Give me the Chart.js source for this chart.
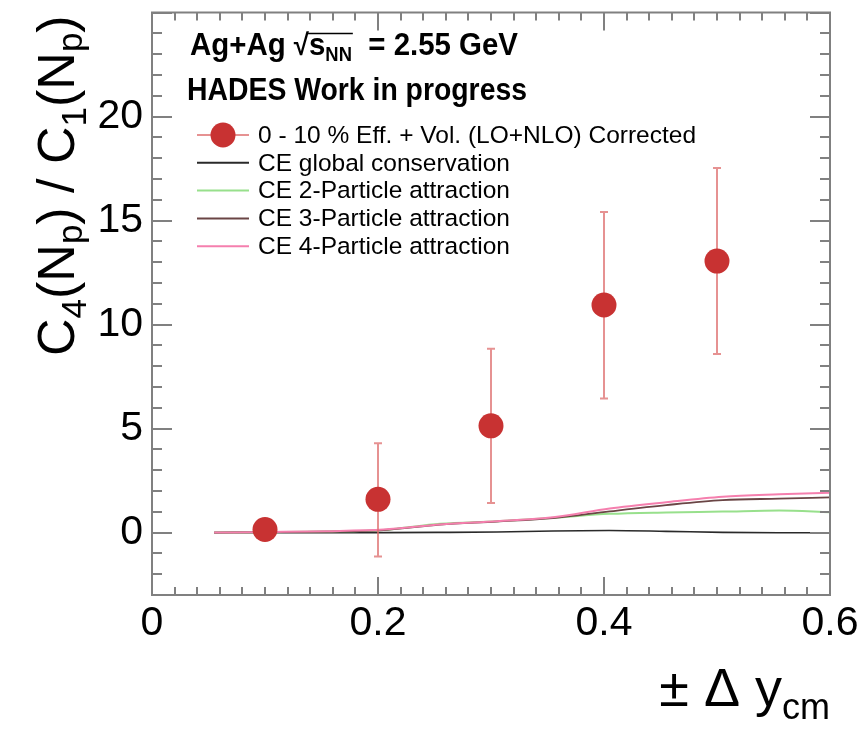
<!DOCTYPE html>
<html><head><meta charset="utf-8">
<script src="https://cdn.jsdelivr.net/npm/chart.js@4.4.1/dist/chart.umd.min.js"></script>
<style>html,body{margin:0;padding:0;background:#fff;}#wrap{width:866px;height:733px;}</style>
</head><body><div id="wrap"><canvas id="c" width="866" height="733"></canvas></div>
<script>
// ---- data ----
const xTicks = [0, 0.2, 0.4, 0.6];
const xTickLabels = ['0', '0.2', '0.4', '0.6'];
const yTicks = [0, 5, 10, 15, 20];
const yTickLabels = ['0', '5', '10', '15', '20'];

const dataX = [0.1, 0.2, 0.3, 0.4, 0.5];
const dataY = [0.15, 1.6, 5.13, 10.94, 13.05];
const dataYLow = [-0.15, -1.15, 1.42, 6.44, 8.58];
const dataYHigh = [0.45, 4.3, 8.84, 15.41, 17.53];

const ceX = [0.055, 0.105, 0.155, 0.205, 0.255, 0.305, 0.355, 0.405, 0.455, 0.505, 0.555, 0.6];
const ceGlobal = [0, 0, 0, 0, 0.01, 0.03, 0.08, 0.1, 0.06, 0.01, -0.01, -0.01];
const ce2 = [0, 0.02, 0.05, 0.13, 0.42, 0.54, 0.71, 0.9, 0.97, 1.01, 1.06, 0.98];
const ce3 = [0, 0.02, 0.05, 0.12, 0.38, 0.53, 0.70, 1.02, 1.32, 1.56, 1.63, 1.69];
const ce4 = [0, 0.03, 0.07, 0.15, 0.39, 0.55, 0.74, 1.16, 1.46, 1.72, 1.84, 1.92];

const labels = [
  '0 - 10 % Eff. + Vol. (LO+NLO) Corrected',
  'CE global conservation',
  'CE 2-Particle attraction',
  'CE 3-Particle attraction',
  'CE 4-Particle attraction'
];

const pts = (xs, ys) => xs.map((x, i) => ({x: x, y: ys[i]}));

const FONT = '"Liberation Sans", Arial, sans-serif';
const NARROW = '"Liberation Sans Narrow", "Liberation Sans", Arial, sans-serif';
const AXIS_COL = '#808080';
const ERR_COL = 'rgba(222,110,110,0.75)';

function drawRich(ctx, parts, x, y) {
  let cx = x;
  const spans = [];
  for (const p of parts) {
    ctx.font = p.f;
    ctx.fillText(p.t, cx, y + (p.dy || 0));
    const w = ctx.measureText(p.t).width;
    spans.push([cx, cx + w]);
    cx += w + (p.gap || 0);
  }
  return spans;
}
function richWidth(ctx, parts) {
  let w = 0;
  for (const p of parts) { ctx.font = p.f; w += ctx.measureText(p.t).width + (p.gap || 0); }
  return w;
}

const errorBars = {
  id: 'errorBars',
  beforeDatasetDraw(chart, args) {
    if (args.index !== 0) return;
    const {ctx, scales: {x, y}} = chart;
    ctx.save();
    ctx.strokeStyle = ERR_COL;
    ctx.lineWidth = 2;
    dataX.forEach((xv, i) => {
      const px = x.getPixelForValue(xv);
      const lo = y.getPixelForValue(dataYLow[i]);
      const hi = y.getPixelForValue(dataYHigh[i]);
      ctx.beginPath();
      ctx.moveTo(px, lo); ctx.lineTo(px, hi);
      ctx.moveTo(px - 4, lo); ctx.lineTo(px + 4, lo);
      ctx.moveTo(px - 4, hi); ctx.lineTo(px + 4, hi);
      ctx.stroke();
    });
    ctx.restore();
  }
};

const decor = {
  id: 'decor',
  beforeDraw(chart) {
    const ctx = chart.ctx;
    ctx.save();
    ctx.fillStyle = '#fff';
    ctx.fillRect(0, 0, chart.width, chart.height);
    ctx.restore();
  },
  afterDraw(chart) {
    const {ctx, chartArea: a, scales: {x, y}} = chart;
    ctx.save();
    // frame
    ctx.strokeStyle = AXIS_COL;
    ctx.lineWidth = 2;
    ctx.strokeRect(a.left, a.top, a.right - a.left, a.bottom - a.top);
    // ticks (inward)
    ctx.beginPath();
    for (let k = 0; k <= 30; k++) {
      const v = k * 0.02;
      const px = Math.round(x.getPixelForValue(v));
      const len = (k % 10 === 0) ? 18 : 8;
      ctx.moveTo(px, a.bottom); ctx.lineTo(px, a.bottom - len);
      ctx.moveTo(px, a.top); ctx.lineTo(px, a.top + len);
    }
    for (let v = -3; v <= 25; v++) {
      const py = Math.round(y.getPixelForValue(v));
      const len = (v % 5 === 0) ? 20 : 10;
      ctx.moveTo(a.left, py); ctx.lineTo(a.left + len, py);
      ctx.moveTo(a.right, py); ctx.lineTo(a.right - len, py);
    }
    ctx.stroke();

    ctx.fillStyle = '#000';
    ctx.textBaseline = 'alphabetic';
    ctx.textAlign = 'left';

    // headers (condensed bold)
    const hb = 'bold 32px ' + NARROW;
    const hs = 'bold 20px ' + NARROW;
    const line1 = [
      {t: 'Ag+Ag ', f: hb},
      {t: '\u221A', f: 'bold 30px ' + FONT},
      {t: 's', f: hb},
      {t: 'NN', f: hs, dy: 6},
      {t: '  = 2.55 GeV', f: hb}
    ];
    const sx1 = 328 / richWidth(ctx, line1);
    ctx.save();
    ctx.translate(190, 55);
    ctx.scale(sx1, 1);
    const sp = drawRich(ctx, line1, 0, 0);
    ctx.lineWidth = 1.5;
    ctx.strokeStyle = '#000';
    ctx.beginPath();
    ctx.moveTo(sp[1][1] - 1, -21.5); ctx.lineTo(sp[3][1] + 1, -21.5);
    ctx.stroke();
    ctx.restore();
    ctx.font = hb;
    const sx2 = 340 / ctx.measureText('HADES Work in progress').width;
    ctx.save();
    ctx.translate(187, 100);
    ctx.scale(sx2, 1);
    ctx.font = hb;
    ctx.fillText('HADES Work in progress', 0, 0);
    ctx.restore();

    // legend
    const ds = chart.data.datasets;
    const lx0 = 197, lx1 = 249, ltx = 258, ly0 = 135, ldy = 27.8;
    ctx.font = '24.5px ' + FONT;
    ctx.textBaseline = 'middle';
    ds.forEach((d, i) => {
      const yy = ly0 + i * ldy;
      ctx.strokeStyle = i === 0 ? ERR_COL : d.borderColor;
      ctx.lineWidth = 2;
      ctx.beginPath(); ctx.moveTo(lx0, yy); ctx.lineTo(lx1, yy); ctx.stroke();
      if (i === 0) {
        ctx.fillStyle = d.backgroundColor;
        ctx.beginPath(); ctx.arc((lx0 + lx1) / 2, yy, 12.5, 0, Math.PI * 2); ctx.fill();
      }
      ctx.fillStyle = '#000';
      ctx.fillText(d.label, ltx, yy + 1);
    });

    // y title (rotated)
    ctx.save();
    ctx.translate(74, 356);
    ctx.rotate(-Math.PI / 2);
    ctx.textBaseline = 'alphabetic';
    const big = '52px ' + FONT, sm = '35px ' + FONT;
    drawRich(ctx, [
      {t: 'C', f: big}, {t: '4', f: sm, dy: 12},
      {t: '(N', f: big}, {t: 'p', f: sm, dy: 8},
      {t: ') / C', f: big}, {t: '1', f: sm, dy: 12},
      {t: '(N', f: big}, {t: 'p', f: sm, dy: 8},
      {t: ')', f: big}
    ], 0, 0);
    ctx.restore();

    // x title
    ctx.textBaseline = 'alphabetic';
    const xparts = [
      {t: '\u00B1 \u0394 y', f: '54px ' + FONT},
      {t: 'cm', f: '36px ' + FONT, dy: 13}
    ];
    const w = richWidth(ctx, xparts);
    drawRich(ctx, xparts, a.right - w, 706);
    ctx.restore();
  }
};

new Chart(document.getElementById('c'), {
  type: 'line',
  data: {
    datasets: [
      {label: labels[0], type: 'scatter', data: pts(dataX, dataY), backgroundColor: '#c83232',
       borderWidth: 0, pointRadius: 12.5, pointHoverRadius: 12.5, showLine: false, order: 0},
      {label: labels[1], data: pts(ceX, ceGlobal), borderColor: '#2a2a2a', borderWidth: 1.6,
       pointRadius: 0, cubicInterpolationMode: 'monotone', order: 4},
      {label: labels[2], data: pts(ceX, ce2), borderColor: '#98e08c', borderWidth: 2,
       pointRadius: 0, cubicInterpolationMode: 'monotone', order: 3},
      {label: labels[3], data: pts(ceX, ce3), borderColor: '#6a4545', borderWidth: 1.8,
       pointRadius: 0, cubicInterpolationMode: 'monotone', order: 2},
      {label: labels[4], data: pts(ceX, ce4), borderColor: '#f57fae', borderWidth: 2,
       pointRadius: 0, cubicInterpolationMode: 'monotone', order: 1}
    ]
  },
  options: {
    responsive: false,
    animation: false,
    layout: {padding: {left: 0, right: 36, top: 9, bottom: 0}},
    plugins: {legend: {display: false}, tooltip: {enabled: false}},
    scales: {
      x: {
        type: 'linear', min: 0, max: 0.6,
        grid: {display: false, drawTicks: false}, border: {display: false},
        afterBuildTicks: s => { s.ticks = xTicks.map(v => ({value: v})); },
        ticks: {
          font: {family: FONT, size: 41}, color: '#000', padding: 4,
          maxRotation: 0, autoSkip: false,
          callback: v => xTickLabels[xTicks.indexOf(v)]
        },
        afterFit: s => { s.height = 138; s.paddingLeft = 0; s.paddingRight = 0; }
      },
      y: {
        type: 'linear', min: -3, max: 25,
        grid: {display: false, drawTicks: false}, border: {display: false},
        afterBuildTicks: s => { s.ticks = yTicks.map(v => ({value: v})); },
        ticks: {
          font: {family: FONT, size: 41}, color: '#000', padding: 9,
          autoSkip: false,
          callback: v => yTickLabels[yTicks.indexOf(v)]
        },
        afterFit: s => { s.width = 152; s.paddingTop = 0; s.paddingBottom = 0; }
      }
    }
  },
  plugins: [errorBars, decor]
});
</script>
</body></html>
